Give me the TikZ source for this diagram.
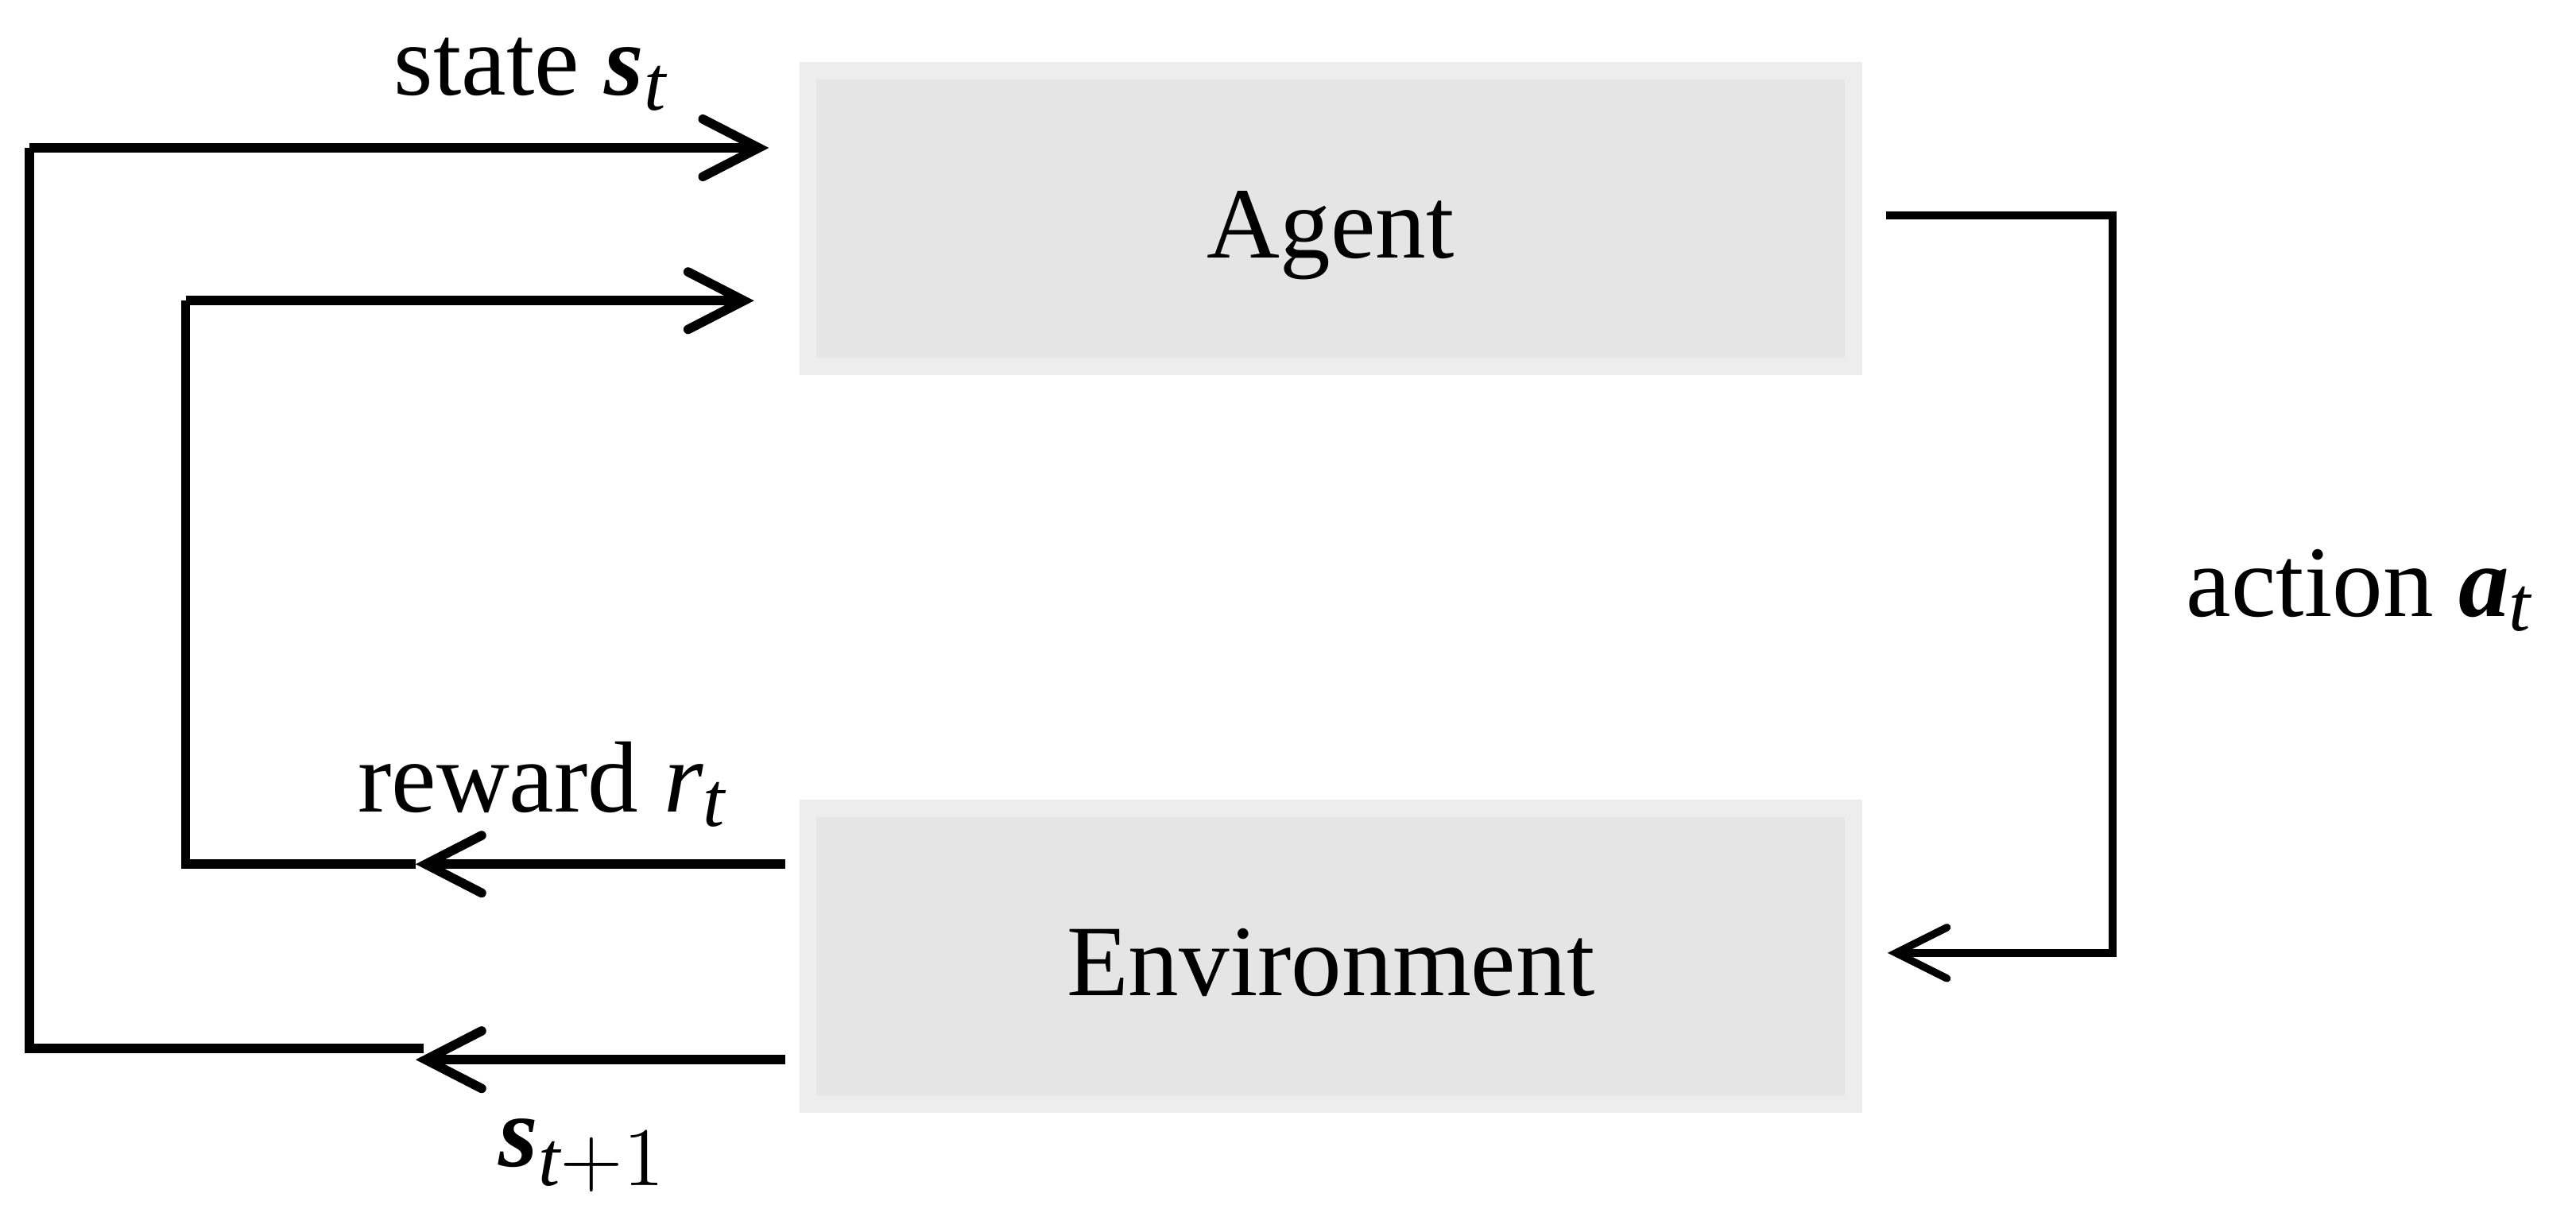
\documentclass[tikz,border=0pt]{standalone}
\usepackage{amsmath}
\usepackage{fontspec}
\setmainfont{Liberation Serif}
\usetikzlibrary{arrows.meta,positioning}

\DeclareMathSizes{17.5}{17.5}{13.5}{10}
\newcommand{\bvec}[1]{\textbf{\textit{#1}}}

\begin{document}
\begin{tikzpicture}[x=0.01cm,y=-0.01cm,line width=1.6pt,
    font=\fontsize{17.5}{21}\selectfont]
\tikzstyle{box} = [rectangle,fill={rgb:black,1;white,9},draw={rgb:black,1;white,13},line width=3pt,minimum width=6.36cm,minimum height=1.8cm,text height=4.8mm,text depth=0pt]
\tikzstyle{lbl} = [inner sep=0pt]
\tikzstyle{barb} = [-{Straight Barb[length=3.4mm,width=3.5mm,line cap=round]}]
    \useasboundingbox (0,0) rectangle (1568,733);

    \node[box] (agent) at (810,133) {Agent};
    \node[box] (env) at (810,582) {Environment};

    % corners of the feedback loops
    \coordinate (st0) at (18,90);
    \coordinate (st1) at (468,90);
    \coordinate (rw0) at (113,183);
    \coordinate (rw1) at (459,183);
    \coordinate (rw2) at (113,526);
    \coordinate (rw3) at (253,526);
    \coordinate (rw4) at (478,526);
    \coordinate (sn0) at (18,638);
    \coordinate (sn1) at (258,638);
    \coordinate (sn2) at (253,645);
    \coordinate (sn3) at (478,645);
    \coordinate (ac0) at (1148,131);
    \coordinate (ac1) at (1286,131);
    \coordinate (ac2) at (1286,580);
    \coordinate (ac3) at (1149,580);

    \draw[barb] (rw4) -- (rw3);
    \draw (rw3) -- (rw2) -- (rw0);
    \draw[barb] (rw0) -- (rw1);
    \draw[barb] (sn3) -- (sn2);
    \draw (sn1) -- (sn0) -- (st0);
    \draw[barb] (st0) -- (st1);
    \draw[line width=1.3pt,-{Straight Barb[length=3.1mm,width=3.1mm,line cap=round]}]
        (ac0) -- (ac1) -- (ac2) -- (ac3);

    \node[lbl,anchor=base west] (lst) at (237,58) {state $\bvec{s}_{\textit{t}}$};
    \node[lbl,anchor=base west] (lrw) at (215,494) {reward \textit{r}$_{\textit{t}}$};
    \node[lbl,anchor=base west] (lsn) at (301,710) {$\bvec{s}_{\textit{t}+1}$};
    \node[lbl,anchor=base west] (lac) at (1328,375) {action $\bvec{a}_{\textit{t}}$};
\end{tikzpicture}
\end{document}
